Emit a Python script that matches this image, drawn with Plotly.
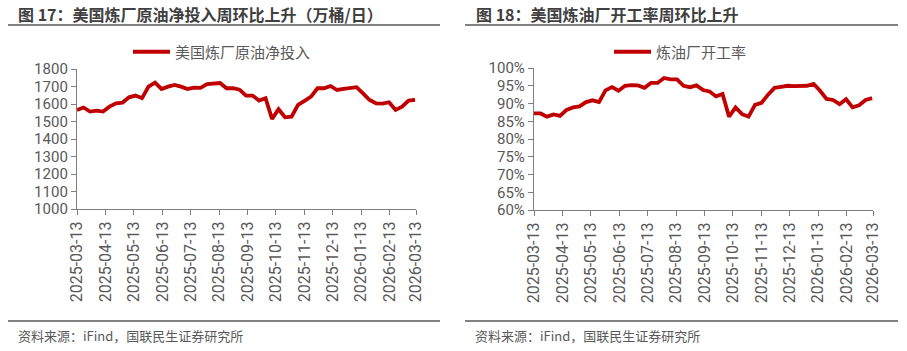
import pandas as pd
import plotly.graph_objects as go

# ---------------- data ----------------
start_date = "2025-03-13"
n_weeks = 53
dates = pd.date_range(start_date, periods=n_weeks, freq="7D")

crude_input = [1566, 1580, 1557, 1562, 1557, 1585, 1604, 1608, 1638, 1648,
               1633, 1699, 1722, 1686, 1699, 1709, 1699, 1686, 1694, 1692,
               1713, 1718, 1720, 1690, 1690, 1682, 1648, 1648, 1620, 1633,
               1515, 1570, 1524, 1528, 1595, 1618, 1642, 1690, 1690, 1703,
               1680, 1686, 1692, 1696, 1661, 1623, 1604, 1602, 1610, 1566,
               1585, 1620, 1623]

utilization = [87.2, 87.2, 86.3, 86.9, 86.5, 88.2, 88.9, 89.2, 90.4, 90.9,
               90.4, 93.7, 94.6, 93.6, 95.0, 95.2, 95.1, 94.4, 95.8, 95.8,
               97.2, 96.8, 96.8, 95.0, 94.6, 95.1, 93.8, 93.4, 92.0, 92.7,
               86.3, 88.9, 87.0, 86.3, 89.6, 90.2, 92.5, 94.4, 94.7, 95.0,
               94.9, 95.0, 95.0, 95.5, 93.6, 91.3, 91.0, 89.8, 91.2, 88.9,
               89.5, 91.0, 91.5]

tick_dates = ["2025-03-13", "2025-04-13", "2025-05-13", "2025-06-13", "2025-07-13",
              "2025-08-13", "2025-09-13", "2025-10-13", "2025-11-13", "2025-12-13",
              "2026-01-13", "2026-02-13", "2026-03-13"]

title_left = "图 17：美国炼厂原油净投入周环比上升（万桶/日）"
title_right = "图 18：美国炼油厂开工率周环比上升"
legend_left = "美国炼厂原油净投入"
legend_right = "炼油厂开工率"
source_text = "资料来源：iFind，国联民生证券研究所"

# ---------------- style ----------------
W, H = 907, 351
RED = "#C00000"
TXT = "#595959"
AX = "#7F7F7F"
FONT = "Noto Sans CJK SC"
NUMFONT = "Roboto"

def px_x(v):
    return v / W

def px_y(v):
    return 1 - v / H

fig = go.Figure()

fig.add_trace(go.Scatter(x=dates, y=crude_input, mode="lines", name=legend_left,
                         line=dict(color=RED, width=3.8), xaxis="x", yaxis="y",
                         legend="legend"))
fig.add_trace(go.Scatter(x=dates, y=utilization, mode="lines", name=legend_right,
                         line=dict(color=RED, width=3.8), xaxis="x2", yaxis="y2",
                         legend="legend2"))

xcommon = dict(type="date", range=[tick_dates[0], tick_dates[-1]],
               tickvals=tick_dates, tickformat="%Y-%m-%d", tickangle=-90,
               showgrid=False, zeroline=False, showline=True, linecolor=AX,
               linewidth=1.3, ticks="outside", ticklen=5, tickcolor=AX,
               tickwidth=1.3, automargin=False,
               tickfont=dict(family=NUMFONT, size=16, color=TXT))
ycommon = dict(showgrid=False, zeroline=False, showline=True, linecolor=AX,
               linewidth=1.3, ticks="outside", ticklen=5, tickcolor=AX,
               tickwidth=1.3, automargin=False,
               tickfont=dict(family=NUMFONT, size=15, color=TXT))

fig.update_layout(
    template="none",
    width=W, height=H,
    margin=dict(l=0, r=0, t=0, b=0, autoexpand=False),
    paper_bgcolor="white", plot_bgcolor="white",
    font=dict(family=FONT, color=TXT),
    xaxis=dict(domain=[px_x(77), px_x(416)], anchor="y", **xcommon),
    yaxis=dict(domain=[px_y(209), px_y(69)], anchor="x", range=[1000, 1800],
               dtick=100, **ycommon),
    xaxis2=dict(domain=[px_x(534), px_x(873)], anchor="y2", **xcommon),
    yaxis2=dict(domain=[px_y(210), px_y(68)], anchor="x2", range=[60, 100],
                dtick=5, ticksuffix="%", **ycommon),
    legend=dict(x=px_x(128), y=px_y(52), xanchor="left", yanchor="middle",
                itemwidth=37,
                font=dict(family=FONT, size=15, color=TXT),
                bgcolor="rgba(0,0,0,0)"),
    legend2=dict(x=px_x(609), y=px_y(52), xanchor="left", yanchor="middle",
                 itemwidth=37,
                 font=dict(family=FONT, size=15, color=TXT),
                 bgcolor="rgba(0,0,0,0)"),
    showlegend=True,
)

# titles
fig.add_annotation(text="<b>" + title_left + "</b>", x=px_x(16), y=px_y(14),
                   xref="paper", yref="paper", xanchor="left", yanchor="middle",
                   showarrow=False, font=dict(family=FONT, size=16, color="#404040"))
fig.add_annotation(text="<b>" + title_right + "</b>", x=px_x(474), y=px_y(14),
                   xref="paper", yref="paper", xanchor="left", yanchor="middle",
                   showarrow=False, font=dict(family=FONT, size=16, color="#404040"))
# sources
fig.add_annotation(text=source_text, x=px_x(16), y=px_y(335),
                   xref="paper", yref="paper", xanchor="left", yanchor="middle",
                   showarrow=False, font=dict(family=FONT, size=13, color=TXT))
fig.add_annotation(text=source_text, x=px_x(473), y=px_y(335),
                   xref="paper", yref="paper", xanchor="left", yanchor="middle",
                   showarrow=False, font=dict(family=FONT, size=13, color=TXT))

# rule lines
for x0, x1 in [(8, 440), (465, 898)]:
    for yy in (25, 321):
        fig.add_shape(type="line", xref="paper", yref="paper",
                      x0=px_x(x0), x1=px_x(x1), y0=px_y(yy), y1=px_y(yy),
                      line=dict(color="#595959", width=1.5))

fig.write_html("out.html")
